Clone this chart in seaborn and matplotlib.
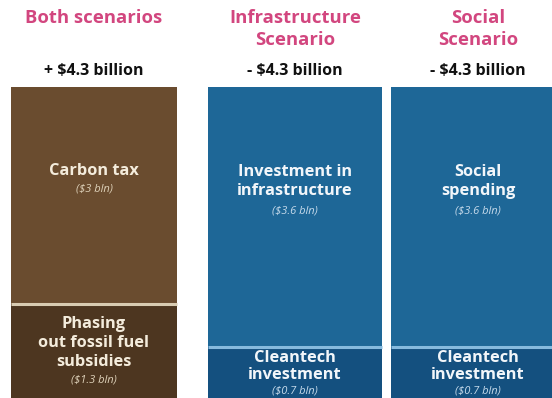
import matplotlib
matplotlib.use("Agg")
import matplotlib.pyplot as plt
import seaborn as sns
import pandas as pd

# ---- data -------------------------------------------------------------
scenarios = ["Both scenarios", "Infrastructure\nScenario", "Social\nScenario"]
net_change = ["+ $4.3 billion", "- $4.3 billion", "- $4.3 billion"]
upper_labels = ["Carbon tax", "Investment in\ninfrastructure", "Social\nspending"]
upper_values = [3.0, 3.6, 3.6]
lower_labels = ["Phasing\nout fossil fuel\nsubsidies", "Cleantech\ninvestment", "Cleantech\ninvestment"]
lower_values = [1.3, 0.7, 0.7]

# ---- style ------------------------------------------------------------
sns.set_theme(style="white")
plt.rcParams["font.family"] = ["Open Sans", "DejaVu Sans"]

W, H = 552, 398
upper_colors = ["#6a4c2f", "#1e6797", "#1e6797"]
lower_colors = ["#4d3620", "#14507f", "#14507f"]
divider_colors = ["#d9ccb2", "#86bade", "#86bade"]
label_colors = ["#f4ecdc", "#f2f6fa", "#f2f6fa"]
value_colors = ["#ddd0b8", "#c4d9ea", "#c4d9ea"]
title_color = "#d2467f"
bar_edges = [(11, 177), (208, 382), (391, 565)]   # pixel extents of each column
bar_top_px = 87                                    # top of the stacks

totals = [u + l for u, l in zip(upper_values, lower_values)]
df = pd.DataFrame({"scenario": scenarios, "total": totals, "lower": lower_values})

fig = plt.figure(figsize=(W / 100, H / 100), dpi=100)
ax = fig.add_axes([0, 0, 1, 1])

sns.barplot(data=df, x="scenario", y="total", hue="scenario",
            palette=upper_colors, saturation=1, width=1, dodge=False,
            legend=False, ax=ax)
sns.barplot(data=df, x="scenario", y="lower", hue="scenario",
            palette=lower_colors, saturation=1, width=1, dodge=False,
            legend=False, ax=ax)

# place columns at their layout positions (pixel-based x axis)
for i, p in enumerate(ax.patches):
    left, right = bar_edges[i % 3]
    p.set_x(left)
    p.set_width(right - left)
    p.set_linewidth(0)

ax.set_xlim(0, W)
scale = (H - bar_top_px) / max(totals)
ax.set_ylim(0, H / scale)
ax.set_axis_off()

# light divider between the two segments
for i, lv in enumerate(lower_values):
    left, right = bar_edges[i]
    ax.hlines(lv, left, right, color=divider_colors[i], lw=2.2, zorder=5)


def put(xpx, ypx, s, **kw):
    fig.text(xpx / W, 1 - ypx / H, s, ha="center", va="center",
             fontstretch="normal", **kw)


title_y = [(18,), (18, 40), (18, 40)]
for i, name in enumerate(scenarios):
    cx = sum(bar_edges[i]) / 2
    for line, y in zip(name.split("\n"), title_y[i]):
        put(cx, y, line, fontsize=13.3, fontweight="bold", color=title_color)
    put(cx, 71, net_change[i].replace("$", r"\$"), fontsize=11.5,
        fontweight="bold", color="#111111")

upper_y = [[171], [172, 191], [172, 191]]
upper_val_y = [189, 211, 211]
lower_y = [[324, 343, 362], [358, 375], [358, 375]]
lower_val_y = [380, 391, 391]

for i in range(3):
    cx = sum(bar_edges[i]) / 2
    for line, y in zip(upper_labels[i].split("\n"), upper_y[i]):
        put(cx, y, line, fontsize=11.8, fontweight="bold", color=label_colors[i])
    put(cx, upper_val_y[i], f"(\\${upper_values[i]:g} bln)", fontsize=8,
        style="italic", color=value_colors[i])
    for line, y in zip(lower_labels[i].split("\n"), lower_y[i]):
        put(cx, y, line, fontsize=11.8, fontweight="bold", color=label_colors[i])
    put(cx, lower_val_y[i], f"(\\${lower_values[i]:g} bln)", fontsize=8,
        style="italic", color=value_colors[i])

fig.savefig("out.png", dpi=100, facecolor="white")
